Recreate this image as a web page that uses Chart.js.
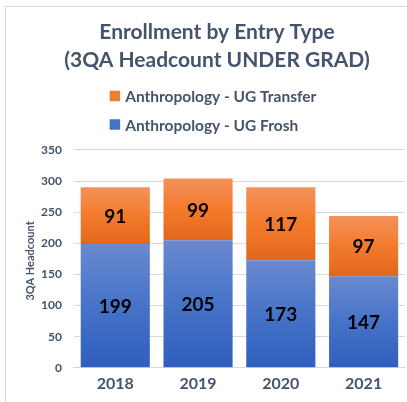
<!DOCTYPE html>
<html>
<head>
<meta charset="utf-8">
<script src="https://cdn.jsdelivr.net/npm/chart.js@4.4.0/dist/chart.umd.min.js"></script>
<style>
  html, body { margin: 0; padding: 0; background: #ffffff; overflow: hidden; }
  #wrap { position: relative; width: 407px; height: 402px; overflow: hidden; }
  #frame { position: absolute; left: 5px; top: 6px; width: 420px; height: 420px;
           border-left: 1px solid #d9d9d9; border-top: 1px solid #d9d9d9; pointer-events: none; }
  canvas { position: absolute; left: 0; top: 0; }
</style>
</head>
<body>
<div id="wrap">
  <canvas id="c" width="424" height="402"></canvas>
  <div id="frame"></div>
</div>
<script>
const categories = ['2018', '2019', '2020', '2021'];
const froshValues = [199, 205, 173, 147];
const transferValues = [91, 99, 117, 97];
const yTicks = [0, 50, 100, 150, 200, 250, 300, 350];
const seriesNames = ['Anthropology - UG Frosh', 'Anthropology - UG Transfer'];
const titleLines = ['Enrollment by Entry Type', '(3QA Headcount UNDER GRAD)'];
const yAxisTitle = '3QA Headcount';

const TEXT = '#44546a';
const FONT = 'Lato, Carlito, "Open Sans", sans-serif';

const gradStops = {
  blue:   ['#6a89d0', '#4673c8', '#2f5fbe'],
  orange: ['#f3925a', '#f47a2b', '#e1671b']
};
const solid = { blue: '#4472c4', orange: '#ed7d31' };

function segGradient(key, lowerArr, valArr) {
  return function (ctx) {
    const chart = ctx.chart;
    const ys = chart.scales && chart.scales.y;
    if (!ys || ctx.dataIndex === undefined || !chart.chartArea) return solid[key];
    const i = ctx.dataIndex;
    const lo = lowerArr ? lowerArr[i] : 0;
    const top = ys.getPixelForValue(lo + valArr[i]);
    const bot = ys.getPixelForValue(lo);
    if (!isFinite(top) || !isFinite(bot) || top === bot) return solid[key];
    const g = chart.ctx.createLinearGradient(0, top, 0, bot);
    const s = gradStops[key];
    g.addColorStop(0, s[0]);
    g.addColorStop(0.5, s[1]);
    g.addColorStop(1, s[2]);
    return g;
  };
}

const legendPlugin = {
  id: 'stackLegend',
  afterDraw(chart) {
    const ctx = chart.ctx;
    const items = [
      { text: seriesNames[1], color: solid.orange },
      { text: seriesNames[0], color: solid.blue }
    ];
    ctx.save();
    ctx.font = 'bold 15.5px ' + FONT;
    const box = 10.5, gap = 5;
    let maxW = 0;
    items.forEach(it => { maxW = Math.max(maxW, ctx.measureText(it.text).width); });
    const total = box + gap + maxW;
    const x0 = chart.width / 2 - total / 2 + 1;
    const rowsY = [96, 124.5];
    items.forEach((it, k) => {
      const cy = rowsY[k];
      ctx.fillStyle = it.color;
      ctx.fillRect(x0, cy - box / 2, box, box);
      ctx.fillStyle = TEXT;
      ctx.textBaseline = 'middle';
      ctx.textAlign = 'left';
      ctx.fillText(it.text, x0 + box + gap, cy + 1);
    });
    ctx.restore();
  }
};

const yTitlePlugin = {
  id: 'yTitle',
  afterDraw(chart) {
    const ca = chart.chartArea;
    const ctx = chart.ctx;
    ctx.save();
    ctx.translate(ca.left - 43, (ca.top + ca.bottom) / 2 + 2);
    ctx.rotate(-Math.PI / 2);
    ctx.font = 'bold 11px ' + FONT;
    ctx.fillStyle = TEXT;
    ctx.textAlign = 'center';
    ctx.textBaseline = 'middle';
    ctx.fillText(yAxisTitle, 0, 0);
    ctx.restore();
  }
};

const labelPlugin = {
  id: 'segLabels',
  afterDatasetsDraw(chart) {
    const ctx = chart.ctx;
    ctx.save();
    ctx.font = 'bold 19px ' + FONT;
    ctx.fillStyle = '#000000';
    ctx.textAlign = 'center';
    ctx.textBaseline = 'middle';
    chart.data.datasets.forEach((ds, di) => {
      const meta = chart.getDatasetMeta(di);
      meta.data.forEach((el, i) => {
        const p = el.getProps(['x', 'y', 'base'], true);
        ctx.fillText(String(ds.data[i]), p.x, (p.y + p.base) / 2 + 1);
      });
    });
    ctx.restore();
  }
};

new Chart(document.getElementById('c'), {
  type: 'bar',
  data: {
    labels: categories,
    datasets: [
      { label: seriesNames[0], data: froshValues, backgroundColor: segGradient('blue', null, froshValues),
        borderWidth: 0, categoryPercentage: 1, barPercentage: 0.835 },
      { label: seriesNames[1], data: transferValues, backgroundColor: segGradient('orange', froshValues, transferValues),
        borderWidth: 0, categoryPercentage: 1, barPercentage: 0.835 }
    ]
  },
  options: {
    responsive: false,
    animation: false,
    events: [],
    layout: { padding: { top: 0, left: 29, right: 19, bottom: 3 } },
    plugins: {
      legend: { display: false },
      tooltip: { enabled: false },
      title: {
        display: true,
        text: titleLines,
        color: TEXT,
        font: { family: FONT, size: 21, weight: 'bold', lineHeight: 1.333 },
        padding: { top: 18, bottom: 76 }
      }
    },
    scales: {
      x: {
        stacked: true,
        grid: { display: false, drawTicks: false },
        border: { display: true, color: '#d9d9d9' },
        ticks: { color: TEXT, font: { family: FONT, size: 16, weight: 'bold' }, padding: 6 }
      },
      y: {
        stacked: true,
        min: 0, max: 350,
        afterBuildTicks(scale) { scale.ticks = yTicks.map(v => ({ value: v })); },
        grid: { color: '#d9d9d9', drawTicks: false },
        border: { display: false },
        ticks: { color: TEXT, font: { family: FONT, size: 12, weight: 'bold' }, padding: 12 }
      }
    }
  },
  plugins: [legendPlugin, yTitlePlugin, labelPlugin]
});
</script>
</body>
</html>
